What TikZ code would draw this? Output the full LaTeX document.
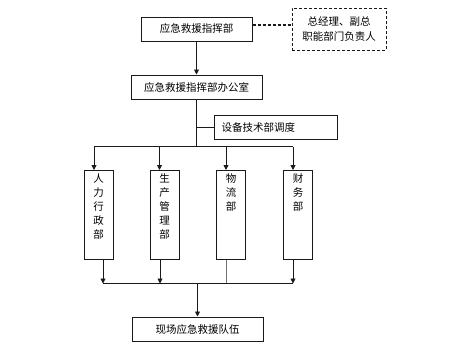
\documentclass[tikz,border=0pt]{standalone}
\usepackage{fontspec}
\setmainfont{Noto Sans CJK SC}
\usepackage{tikz}
\usetikzlibrary{arrows.meta,positioning,calc}
\definecolor{lineink}{HTML}{1A1A1A}
\newcommand{\vlabel}[1]{\parbox[c][83pt][t]{16pt}{\centering #1}}

\begin{document}
\begin{tikzpicture}[x=1pt, y=-1pt, font=\fontsize{10.5}{14}\selectfont]
  \tikzstyle{box}=[draw=lineink, line width=1pt, minimum height=24pt, inner sep=2pt, align=center]
  \tikzstyle{dept}=[draw=lineink, line width=1pt, inner sep=3pt, minimum width=29pt, anchor=north]
  \tikzstyle{arrow}=[-{Triangle[length=5pt,width=5pt]}, line width=0.9pt, color=lineink]
  \tikzstyle{link}=[line width=0.9pt, color=lineink]

  \useasboundingbox (0,0) rectangle (450,349);

  \node[box, minimum width=111pt] (command) at (196.5,29) {应急救援指挥部};
  \node[box, dashed, dash pattern=on 3pt off 2pt, minimum width=94pt, minimum height=42pt, right=39pt of command, font=\fontsize{10.5}{15}\selectfont] (leaders) {总经理、副总\\职能部门负责人};
  \node[box, minimum width=131pt, below=33pt of command] (office) {应急救援指挥部办公室};
  \node[box, text width=109pt, inner xsep=7pt, align=left, below right=15pt and 17.5pt of office.south] (equip) {设备技术部调度};

  \node[dept] (hr) at (98.5,170) {\vlabel{人\\力\\行\\政\\部}};
  \node[dept, right=36pt of hr] (prod) {\vlabel{生\\产\\管\\理\\部}};
  \node[dept, right=36.5pt of prod] (logi) {\vlabel{物\\流\\部}};
  \node[dept, right=37pt of logi] (fin) {\vlabel{财\\务\\部}};

  \node[box, minimum width=131pt] (team) at (197.5,329) {现场应急救援队伍};

  \coordinate (dashend) at (command.east);
  \coordinate (topbus) at ($(office.south)+(0,47)$);
  \coordinate (lowbus) at ($(team.north)+(0,-33)$);

  % dotted link to the leadership box
  \draw[line width=1.2pt, color=lineink, dash pattern=on 3pt off 2pt] ($(dashend)+(0,-4)$) -- ($(dashend -| leaders.west)+(0,-4)$);
  \draw[arrow] (command) -- (office);
  \draw[link] (office.south) -- (topbus);
  \draw[link] (office.south |- equip.west) -- (equip.west);
  \draw[link] ([xshift=-4.5pt]hr.north |- topbus) -- ([xshift=-5pt]fin.north |- topbus);
  \draw[arrow] ([xshift=-4.5pt]hr.north |- topbus) -- ([xshift=-4.5pt]hr.north);
  \foreach \d in {prod,logi,fin}
    \draw[arrow] ([xshift=-5pt]\d.north |- topbus) -- ([xshift=-5pt]\d.north);

  \draw[arrow] ([xshift=4.5pt]hr.south) -- ([xshift=4.5pt]hr.south |- lowbus);
  \draw[arrow] ([xshift=-4.5pt]prod.south) -- ([xshift=-4.5pt]prod.south |- lowbus);
  \draw[line width=0.9pt, color=black!55] ([xshift=-5pt]logi.south) -- ([xshift=-5pt]logi.south |- lowbus);
  \draw[arrow] ([xshift=-5pt]fin.south) -- ([xshift=-5pt]fin.south |- lowbus);
  \draw[link] ([xshift=4.5pt]hr.south |- lowbus) -- ([xshift=-5pt]fin.south |- lowbus);
  \draw[arrow] (lowbus) -- (team.north);
\end{tikzpicture}
\end{document}
